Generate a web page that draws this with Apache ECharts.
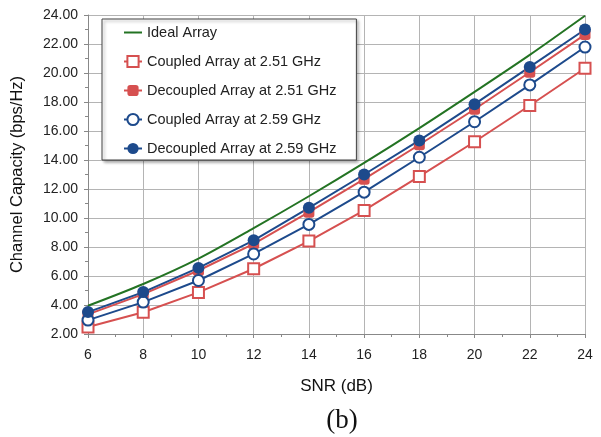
<!DOCTYPE html>
<html>
<head>
<meta charset="utf-8">
<script src="https://cdn.jsdelivr.net/npm/echarts@6/dist/echarts.min.js"></script>
<style>
  html, body { margin: 0; padding: 0; background: #fff; }
  #chart { width: 601px; height: 437px; }
</style>
</head>
<body>
<div id="chart"></div>
<script>
// SNR points (dB)
const snr = [6, 8, 10, 12, 14, 16, 18, 20, 22, 24];

// channel capacity (bps/Hz)
const ideal = [3.95, 5.45, 7.2, 9.3, 11.5, 13.8, 16.2, 18.7, 21.25, 23.95];
const coupled251 = [2.48, 3.5, 4.87, 6.5, 8.41, 10.52, 12.87, 15.26, 17.76, 20.33];
const decoupled251 = [3.35, 4.75, 6.38, 8.22, 10.4, 12.68, 15.05, 17.5, 20.05, 22.65];
const coupled259 = [2.96, 4.2, 5.69, 7.52, 9.56, 11.78, 14.19, 16.64, 19.18, 21.79];
const decoupled259 = [3.51, 4.89, 6.56, 8.46, 10.7, 13.0, 15.35, 17.85, 20.42, 23.0];

const names = [
  "Ideal Array",
  "Coupled Array at 2.51 GHz",
  "Decoupled Array at 2.51 GHz",
  "Coupled Array at 2.59 GHz",
  "Decoupled Array at 2.59 GHz",
];

const green = "#237323";
const red = "#d65050";
const navy = "#1d4a8c";

const pairs = (vals) => snr.map((x, i) => [x, vals[i]]);

var myChart = echarts.init(document.getElementById("chart"));

let option = {
  animation: false,
  textStyle: { fontFamily: "Liberation Sans, Arial, sans-serif" },
  title: {
    text: "(b)",
    left: 337,
    textAlign: "center",
    top: 402,
    textStyle: {
      fontFamily: "Liberation Serif, Times New Roman, serif",
      fontSize: 27,
      fontWeight: "normal",
      color: "#111",
    },
  },
  grid: {
    left: 88,
    right: 16,
    top: 15,
    bottom: 103,
  },
  legend: {
    orient: "vertical",
    left: 102,
    top: 19,
    backgroundColor: "#fff",
    borderColor: "#444",
    borderWidth: 1,
    padding: [6, 20, 4, 21],
    itemWidth: 18,
    itemHeight: 14,
    itemGap: 14,
    shadowColor: "rgba(0,0,0,0.35)",
    shadowBlur: 3,
    shadowOffsetX: 2,
    shadowOffsetY: 2,
    textStyle: { fontSize: 14.5, color: "#222" },
    // line only for the ideal curve
    data: [
      { name: names[0], itemStyle: { opacity: 0 } },
      names[1],
      names[2],
      names[3],
      names[4],
    ],
  },
  xAxis: {
    type: "value",
    min: 6,
    max: 24,
    interval: 2,
    name: "SNR (dB)",
    nameLocation: "middle",
    nameGap: 44,
    nameTextStyle: { fontSize: 17, color: "#111" },
    axisLine: { show: true, lineStyle: { color: "#888", width: 1 } },
    axisTick: { show: true, length: 4, lineStyle: { color: "#888" } },
    minorTick: { show: true, splitNumber: 2, length: 3, lineStyle: { color: "#888" } },
    axisLabel: { fontSize: 14, color: "#222", margin: 14 },
    splitLine: { show: true, lineStyle: { color: "#b4b4b4", width: 1 } },
  },
  yAxis: {
    type: "value",
    min: 2,
    max: 24,
    interval: 2,
    name: "Channel Capacity (bps/Hz)",
    nameLocation: "middle",
    nameGap: 62,
    nameTextStyle: { fontSize: 16.5, color: "#111" },
    axisLine: { show: true, lineStyle: { color: "#888", width: 1 } },
    axisTick: { show: true, length: 4, lineStyle: { color: "#888" } },
    minorTick: { show: true, splitNumber: 2, length: 3, lineStyle: { color: "#888" } },
    axisLabel: {
      fontSize: 14,
      color: "#222",
      margin: 10,
      formatter: (v) => v.toFixed(2),
    },
    splitLine: { show: true, lineStyle: { color: "#b4b4b4", width: 1 } },
  },
  series: [
    {
      name: names[0],
      type: "line",
      data: pairs(ideal),
      symbol: "none",
      smooth: 0.3,
      lineStyle: { color: green, width: 2 },
      itemStyle: { color: green },
    },
    {
      name: names[1],
      type: "line",
      data: pairs(coupled251),
      symbol: "rect",
      symbolSize: 11,
      lineStyle: { color: red, width: 2 },
      itemStyle: { color: "#fff", borderColor: red, borderWidth: 2 },
    },
    {
      name: names[2],
      type: "line",
      data: pairs(decoupled251),
      symbol: "roundRect",
      symbolSize: 11,
      lineStyle: { color: red, width: 2 },
      itemStyle: { color: red },
    },
    {
      name: names[3],
      type: "line",
      data: pairs(coupled259),
      symbol: "circle",
      symbolSize: 11,
      lineStyle: { color: navy, width: 2 },
      itemStyle: { color: "#fff", borderColor: navy, borderWidth: 2 },
    },
    {
      name: names[4],
      type: "line",
      data: pairs(decoupled259),
      symbol: "circle",
      symbolSize: 12,
      lineStyle: { color: navy, width: 2 },
      itemStyle: { color: navy },
    },
  ],
};

myChart.setOption(option);
</script>
</body>
</html>
